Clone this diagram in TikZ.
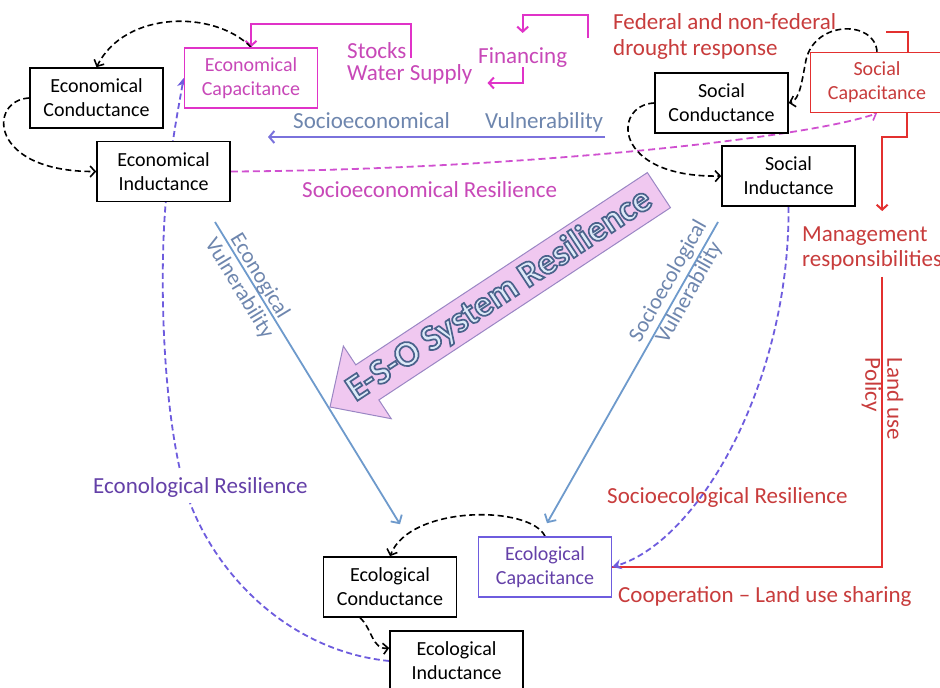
\documentclass[tikz,border=0pt]{standalone}
\usepackage{fontspec}
\setmainfont{Carlito}
\usetikzlibrary{arrows.meta,calc}
\pgfdeclarelayer{bg}
\pgfdeclarelayer{lines}
\pgfsetlayers{bg,lines,main}
\definecolor{magline}{HTML}{E033C8}
\definecolor{magtext}{HTML}{C848B8}
\definecolor{magdash}{HTML}{D050D0}
\definecolor{redline}{HTML}{E3302F}
\definecolor{redtext}{HTML}{C83C3C}
\definecolor{purpline}{HTML}{6E5CDE}
\definecolor{purptext}{HTML}{6440A8}
\definecolor{vulline}{HTML}{6E9ACC}
\definecolor{vultext}{HTML}{6E86AE}
\definecolor{sevline}{HTML}{7A72DC}
\definecolor{esofill}{HTML}{F0C8F0}
\definecolor{esoedge}{HTML}{9A86C4}
\definecolor{esotextfill}{HTML}{DDEAF8}
\newcommand{\outlinedtext}[1]{{\color{esotextfill}%
  \special{pdf:literal direct 2 Tr 1.7 w 0.290 0.385 0.545 RG}#1%
  \special{pdf:literal direct 0 Tr}}}
\tikzset{
  box/.style={draw=black, line width=1.6pt, fill=white, minimum width=133pt,
    minimum height=60pt, align=center, inner sep=2pt,
    font=\fontsize{20}{24}\selectfont},
  magbox/.style={box, draw=magline, text=magtext},
  redbox/.style={box, draw=redline, text=redtext},
  purpbox/.style={box, draw=purpline, text=purptext},
  lbl/.style={inner sep=0pt, font=\fontsize{23}{26}\selectfont},
  blackdash/.style={draw=black, line width=1.6pt, dash pattern=on 6pt off 3.5pt,
    -{Straight Barb[length=5pt,width=11pt,line width=1.6pt]}},
  purpdash/.style={draw=purpline, line width=1.8pt, dash pattern=on 6pt off 3.5pt,
    -{Stealth[length=9pt,width=10pt]}},
  magdashed/.style={draw=magdash, line width=1.8pt, dash pattern=on 7pt off 4pt,
    -{Straight Barb[length=5pt,width=11pt,line width=1.6pt]}},
  magarrow/.style={draw=magline, line width=2pt,
    -{Straight Barb[length=5pt,width=11pt,line width=2pt]}},
  redarrow/.style={draw=redline, line width=2pt,
    -{Straight Barb[length=5pt,width=11pt,line width=2pt]}},
  redplain/.style={draw=redline, line width=2pt},
  vularrow/.style={draw=vulline, line width=1.8pt,
    -{Straight Barb[length=6pt,width=13pt,line width=1.8pt]}},
  sevarrow/.style={draw=sevline, line width=2pt,
    -{Straight Barb[length=5pt,width=12pt,line width=2pt]}},
  esoshape/.style={draw=esoedge, fill=esofill, line width=1pt},
}
\begin{document}
\begin{tikzpicture}[x=1pt,y=1pt]
\useasboundingbox (0,0) rectangle (940,-688);
\begin{pgfonlayer}{bg}
\fill[white] (0,0) rectangle (940,-688);
\end{pgfonlayer}

% boxes
\node[box] (econd) at (96.5,-98) {Economical\\Conductance};
\node[magbox] (ecap) at (251,-78) {Economical\\Capacitance};
\node[box] (eind) at (163.5,-171.5) {Economical\\Inductance};
\node[box] (scond) at (721.5,-103) {Social\\Conductance};
\node[redbox] (scap) at (877,-82.5) {Social\\Capacitance};
\node[box] (sind) at (788.5,-176) {Social\\Inductance};
\node[box] (lcond) at (390,-587) {Ecological\\Conductance};
\node[purpbox] (lcap) at (545,-567) {Ecological\\Capacitance};
\node[box] (lind) at (456.5,-661) {Ecological\\Inductance};

% labels
\node[lbl, text=magtext, align=left, anchor=west,
  font=\fontsize{23}{22}\selectfont] (stocks) at (347,-63.5) {Stocks\\Water Supply};
\node[lbl, text=magtext, anchor=base west] (fin) at (478,-63) {Financing};
\node[lbl, text=redtext, align=left, anchor=west] (fed) at (613,-36)
  {Federal and non-federal\\drought response};
\node[lbl, text=vultext, anchor=base west] (sev1) at (293,-128) {Socioeconomical};
\node[lbl, text=vultext, anchor=base west] (sev2) at (485,-128) {Vulnerability};
\node[lbl, text=magtext, anchor=base west] (ser) at (302,-197) {Socioeconomical Resilience};
\node[lbl, text=redtext, align=left, anchor=west,
  font=\fontsize{23}{25}\selectfont] (mgmt) at (802,-248) {Management\\responsibilities};
\node[lbl, text=redtext, align=left, rotate=-90,
  font=\fontsize{23}{22}\selectfont] (landuse) at (882.5,-399) {Land use\\Policy};
\node[lbl, text=vultext, align=center, rotate=-58.6,
  font=\fontsize{22}{24}\selectfont] (ecvul) at (249.3,-282.4) {Econogical\\Vulnerability};
\node[lbl, text=vultext, align=center, rotate=60.5,
  font=\fontsize{22}{24}\selectfont] (socvul) at (679,-287) {Socioecological\\Vulnerability};
\node[lbl, text=purptext, fill=white, inner sep=6pt, anchor=base west] (elr) at (87,-493)
  {Econological Resilience};
\node[lbl, text=redtext, anchor=base west] (slr) at (607,-503) {Socioecological Resilience};
\node[lbl, text=redtext, anchor=base west] (coop) at (618,-602) {Cooperation – Land use sharing};

% big arrow
\begin{scope}[shift={(330,-407)}, rotate=33.4]
\draw[esoshape] (0,0) -- (44.7,43.5) -- (44.7,21) -- (394,21) -- (394,-21)
  -- (44.7,-21) -- (44.7,-43.5) -- cycle;
\end{scope}
\node[inner sep=0pt, rotate=33.4, font=\fontsize{36.5}{40}\selectfont\bfseries] (esotext)
  at (499.5,-295.2) {\outlinedtext{E-S-O System Resilience}};

% coordinates for free ends
\coordinate (stk) at (411,-58);
\coordinate (fin1) at (588,-38);
\coordinate (fedbr) at (886,-32);
\coordinate (sevR) at (605,-137);
\coordinate (sevL) at (268,-137);
\coordinate (evA) at (215,-222);
\coordinate (svA) at (718,-222);

\begin{pgfonlayer}{lines}
% magenta solid
\draw[magarrow] (stk) |- ($(ecap.north)+(0,23)$) -- (ecap.north);
\draw[magarrow] (fin1) |- ([yshift=32pt]fin.north) -- ([yshift=14pt]fin.north);
\draw[magarrow] (fin.south) |- ([xshift=15pt,yshift=-19.5pt]stocks.east);
% red
\draw[redplain] (fedbr) -| ([xshift=31pt]scap.north);
\draw[redarrow] ([xshift=30pt]scap.south) -- ++(0,-24) -| ([xshift=10pt,yshift=15pt]mgmt.north);
\draw[redplain] ([xshift=10pt,yshift=-7pt]mgmt.south) |- (lcap.east);
% vulnerability
\draw[sevarrow] (sevR) -- (sevL);
\draw[vularrow] (evA) -- ([xshift=10pt,yshift=32pt]lcond.north);
\draw[vularrow] (svA) -- ([xshift=2pt,yshift=13pt]lcap.north);
% magenta dashed
\draw[magdashed] (eind.east) .. controls (500,-170) and (800,-140) .. (scap.south);
% purple dashed
\draw[purpdash] (lind.west) .. controls (280,-650) and (200,-560) .. (180,-470)
  .. controls (160,-380) and (160,-250) .. (167,-190)
  .. controls (172,-140) and (178,-110) .. (ecap.west);
\draw[purpdash] (sind.south) .. controls (790,-380) and (700,-540) .. (lcap.east);
% black dashed
\draw[blackdash] (ecap.north) .. controls (215,-10) and (125,-10) .. (econd.north);
\draw[blackdash] (econd.west) .. controls (-12,-100) and (-12,-172) .. (eind.west);
\draw[blackdash] (scap.north) .. controls (875,-20) and (815,-20) .. (806,-60)
  .. controls (802,-80) and (800,-100) .. (scond.east);
\draw[blackdash] (scond.west) .. controls (612,-105) and (612,-178) .. (sind.west);
\draw[blackdash] (lcap.north) .. controls (530,-505) and (410,-505) .. (lcond.north);
\draw[blackdash] ([xshift=-30pt]lcond.south) .. controls (372,-628) and (372,-650)
  .. ([yshift=13pt]lind.west);
\end{pgfonlayer}
\end{tikzpicture}
\end{document}
